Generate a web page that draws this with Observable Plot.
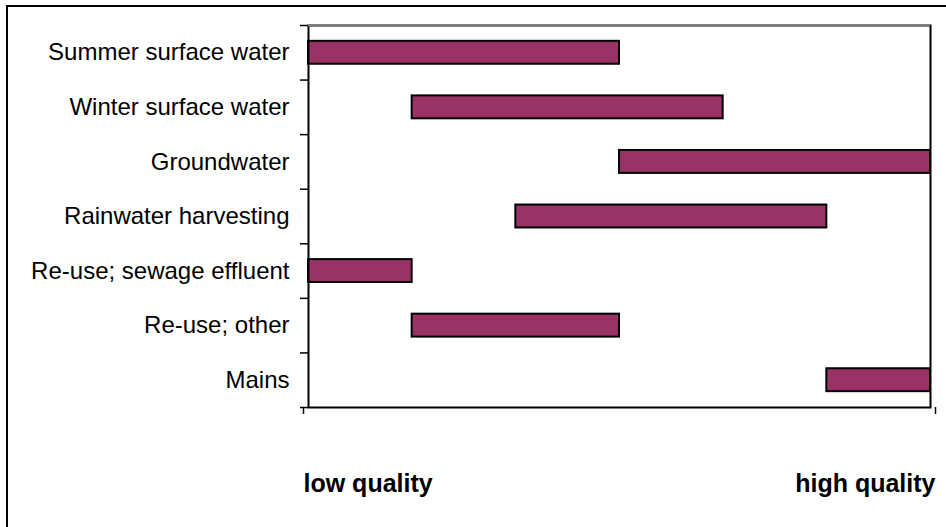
<!DOCTYPE html>
<html>
<head>
<meta charset="utf-8">
<script src="https://cdn.jsdelivr.net/npm/d3@7"></script>
<script src="https://cdn.jsdelivr.net/npm/@observablehq/plot@0.6"></script>
<style>
  html, body { margin: 0; padding: 0; background: #fff; }
  #wrap { position: relative; width: 946px; height: 527px; overflow: hidden; background: #fff; }
  #frame { position: absolute; left: 6px; top: 5px; width: 1000px; height: 600px;
           border-left: 2px solid #000; border-top: 2px solid #000; }
  #chart { position: absolute; left: 0; top: 0; width: 946px; height: 527px; }
</style>
</head>
<body>
<div id="wrap">
  <div id="frame"></div>
  <div id="chart"></div>
</div>
<script>
// Categories (top to bottom) and the quality range each covers (0 = low, 6 = high)
const categories = [
  "Summer surface water",
  "Winter surface water",
  "Groundwater",
  "Rainwater harvesting",
  "Re-use; sewage effluent",
  "Re-use; other",
  "Mains"
];
const rangeStart = [0, 1, 3, 2, 0, 1, 5];
const rangeEnd   = [3, 4, 6, 5, 1, 3, 6];
const qualityMin = 0;
const qualityMax = 6;
const qualityLabels = ["low quality", "high quality"];

const data = categories.map((name, i) => ({name, idx: i, start: rangeStart[i], end: rangeEnd[i]}));
const nCat = categories.length;
const bandTicks = d3.range(nCat + 1);
const labelTicks = categories.map((_, i) => i + 0.5);

const fontFamily = "'Liberation Sans', Arial, Helvetica, sans-serif";

const chart = Plot.plot({
  width: 946,
  height: 527,
  marginLeft: 308,
  marginRight: 16,
  marginTop: 25,
  marginBottom: 120,
  style: {fontFamily, background: "transparent", overflow: "visible", maxWidth: "none"},
  x: {domain: [qualityMin, qualityMax], axis: null},
  y: {domain: [0, nCat], reverse: true, axis: null},
  marks: [
    // bars
    Plot.rect(data, {
      x1: "start", x2: "end",
      y1: d => d.idx + 0.29, y2: d => d.idx + 0.71,
      fill: "#993366", stroke: "#000", strokeWidth: 2
    }),
    // category boundary ticks
    Plot.axisY({ticks: bandTicks, tickFormat: null, tickSize: 8, stroke: "#000", strokeWidth: 1.5, text: null}),
    // category labels
    Plot.axisY({
      ticks: labelTicks,
      tickFormat: t => categories[Math.floor(t)],
      tickSize: 0, tickPadding: 19,
      fontSize: 24, fill: "#000"
    }),
    // quality end labels
    Plot.axisX({
      ticks: [qualityMin], tickFormat: () => qualityLabels[0],
      tickSize: 7, tickPadding: 60, textAnchor: "start", dx: -5, strokeWidth: 1.5,
      fontSize: 25, fontWeight: "bold", fill: "#000", stroke: "#000"
    }),
    Plot.axisX({
      ticks: [qualityMax], tickFormat: () => qualityLabels[1],
      tickSize: 7, tickPadding: 60, textAnchor: "end", dx: 5, strokeWidth: 1.5,
      fontSize: 25, fontWeight: "bold", fill: "#000", stroke: "#000"
    }),
    // plot area frame (left axis, bottom axis, right edge) and gray top edge
    Plot.frame({stroke: "#000", strokeWidth: 2}),
    Plot.ruleY([0], {x1: qualityMin, x2: qualityMax, stroke: "#808080", strokeWidth: 2.2})
  ]
});
document.getElementById("chart").appendChild(chart);
</script>
</body>
</html>
